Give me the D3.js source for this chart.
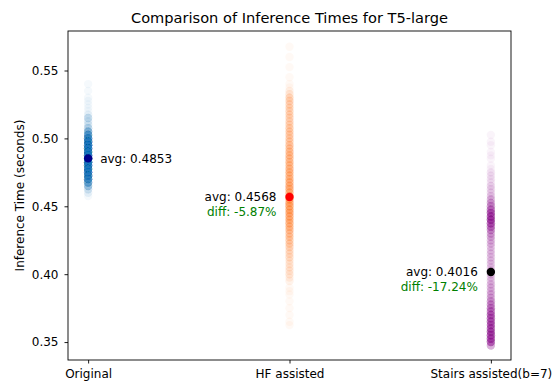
<!DOCTYPE html>
<html><head><meta charset="utf-8">
<script src="https://cdn.jsdelivr.net/npm/d3@7"></script>
<style>body{margin:0;background:#fff}svg{display:block;font-family:"DejaVu Sans",sans-serif}</style>
</head><body><svg id="c" width="552" height="383"></svg>
<script>
const categories = ["Original", "HF assisted", "Stairs assisted(b=7)"];
const means = [0.4853, 0.4568, 0.4016];
const diffs = [null, "-5.87%", "-17.24%"];
const yTicks = [0.35, 0.40, 0.45, 0.50, 0.55];
// observed inference times (seconds) and how many runs landed at each value
const origTimes  = [0.540,0.535,0.530,0.5275,0.525,0.5225,0.520,0.5175,0.515,0.5125,0.510,0.5075,0.505,0.5025,0.500,0.4975,0.495,0.4925,0.490,0.4875,0.485,0.4825,0.480,0.4775,0.475,0.4725,0.470,0.4675,0.465,0.4625,0.460,0.4575];
const origCounts = [1,1,1,1,1,1,1,2,5,3,3,6,12,18,24,28,30,30,32,32,32,32,30,30,28,26,22,16,9,4,2,1];
const hfTimes  = [0.5675,0.560,0.5525,0.545,0.540,0.5375,0.535,0.5325,0.530,0.5275,0.525,0.5225,0.520,0.5175,0.515,0.5125,0.510,0.5075,0.505,0.5025,0.500,0.4975,0.495,0.4925,0.490,0.4875,0.485,0.4825,0.480,0.4775,0.475,0.4725,0.470,0.4675,0.465,0.4625,0.460,0.4575,0.455,0.4525,0.450,0.4475,0.445,0.4425,0.440,0.4375,0.435,0.4325,0.430,0.4275,0.425,0.4225,0.420,0.4175,0.415,0.4125,0.410,0.4075,0.405,0.4025,0.400,0.3975,0.395,0.390,0.3875,0.385,0.380,0.375,0.370,0.365,0.3625];
const hfCounts = [1,1,1,1,1,1,2,3,5,5,5,5,5,5,5,5,5,6,6,6,6,6,7,7,8,8,8,8,8,9,9,9,9,10,10,10,10,11,12,12,12,12,11,11,10,10,9,8,7,7,6,6,5,4,4,4,3,3,3,3,3,2,2,1,1,1,1,1,1,1,1];
const stairsTimes  = [0.5025,0.4975,0.495,0.490,0.4875,0.485,0.480,0.4775,0.475,0.4725,0.470,0.4675,0.465,0.4625,0.460,0.4575,0.455,0.4525,0.450,0.4475,0.445,0.4425,0.440,0.4375,0.435,0.4325,0.430,0.4275,0.425,0.4225,0.420,0.4175,0.415,0.4125,0.410,0.4075,0.405,0.4025,0.400,0.3975,0.395,0.3925,0.390,0.3875,0.385,0.3825,0.380,0.3775,0.375,0.3725,0.370,0.3675,0.365,0.3625,0.360,0.3575,0.355,0.3525,0.350,0.3475];
const stairsCounts = [1,1,1,1,1,1,1,1,2,2,2,2,3,3,3,4,6,7,9,12,15,17,17,15,12,9,7,6,5,5,4,4,4,4,4,4,4,4,4,4,4,5,5,5,6,6,8,9,10,12,13,13,14,14,15,15,16,16,15,8];

const svg = d3.select("#c");
const x = d3.scaleLinear().domain([-0.1, 2.1]).range([68, 511]);
const y = d3.scaleLinear().domain([0.3368, 0.5791]).range([360, 31]);

const series = [
  {times: origTimes, counts: origCounts, color: "#1f77b4", mean: "#00008b"},
  {times: hfTimes, counts: hfCounts, color: "#ff7f0e", mean: "#ff0000"},
  {times: stairsTimes, counts: stairsCounts, color: "#800080", mean: "#000000"}
];

series.forEach((s, i) => {
  const pts = [];
  s.times.forEach((t, j) => { for (let k = 0; k < s.counts[j]; k++) pts.push(t); });
  svg.append("g").selectAll("circle").data(pts).join("circle")
    .attr("cx", x(i)).attr("cy", d => y(d)).attr("r", 4.2)
    .attr("fill", s.color).attr("fill-opacity", 0.045);
});

series.forEach((s, i) => {
  svg.append("circle").attr("cx", x(i)).attr("cy", y(means[i])).attr("r", 4.2).attr("fill", s.mean);
});

// labels
means.forEach((m, i) => {
  const right = i === 0;
  const tx = right ? x(i) + 12 : x(i) - 13;
  svg.append("text").attr("x", tx).attr("y", y(m)).attr("dy", "0.35em")
    .attr("text-anchor", right ? "start" : "end").attr("font-size", 12).attr("fill", "#000")
    .text("avg: " + m.toFixed(4));
  if (diffs[i]) {
    svg.append("text").attr("x", tx).attr("y", y(m) + 15).attr("dy", "0.35em")
      .attr("text-anchor", "end").attr("font-size", 12).attr("fill", "#008000")
      .text("diff: " + diffs[i]);
  }
});

// axes
const ya = svg.append("g").attr("transform", "translate(68,0)")
  .call(d3.axisLeft(y).tickValues(yTicks).tickFormat(d3.format(".2f")).tickSize(3.5).tickPadding(6));
const xa = svg.append("g").attr("transform", "translate(0,360)")
  .call(d3.axisBottom(x).tickValues([0,1,2]).tickFormat(d => categories[d]).tickSize(3.5).tickPadding(6));
[ya, xa].forEach(a => { a.select(".domain").remove(); a.selectAll("text").attr("font-size", 12).attr("fill", "#000").attr("font-family", "DejaVu Sans"); a.selectAll("line").attr("stroke", "#000").attr("stroke-width", 0.9); });

svg.append("rect").attr("x", 68).attr("y", 31).attr("width", 443).attr("height", 329)
  .attr("fill", "none").attr("stroke", "#000").attr("stroke-width", 0.9);

svg.append("text").attr("x", 289.5).attr("y", 23).attr("text-anchor", "middle")
  .attr("font-size", 14.6).attr("fill", "#000").text("Comparison of Inference Times for T5-large");
svg.append("text").attr("transform", "translate(24,195.5) rotate(-90)").attr("text-anchor", "middle")
  .attr("font-size", 12).attr("fill", "#000").text("Inference Time (seconds)");
</script></body></html>
